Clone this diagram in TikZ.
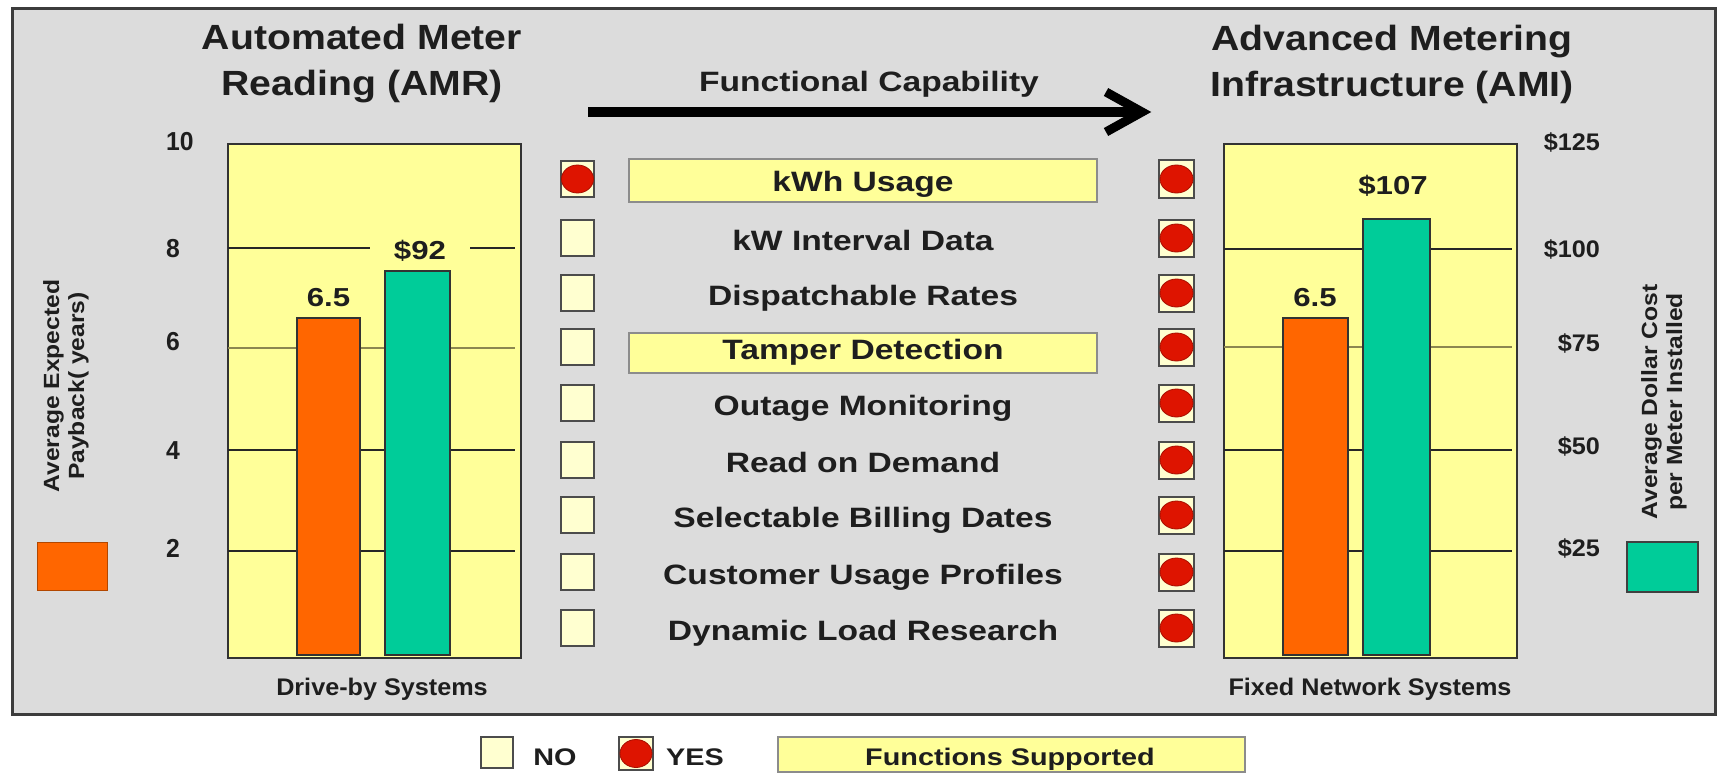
\documentclass[tikz,border=0pt]{standalone}
\usepackage{fontspec}
\setmainfont{Liberation Sans}
\newfontfamily\fT[FakeStretch=1.12]{Liberation Sans}
\newfontfamily\fW[FakeStretch=1.2]{Liberation Sans}
\newfontfamily\fS[FakeStretch=1.05]{Liberation Sans}
\newfontfamily\fN[FakeStretch=0.95]{Liberation Sans}
\usetikzlibrary{shapes.geometric}
\definecolor{bggray}{RGB}{220,220,220}
\definecolor{framec}{RGB}{60,60,60}
\definecolor{plotyellow}{RGB}{255,255,153}
\definecolor{chkfill}{RGB}{255,255,208}
\definecolor{barorange}{RGB}{255,102,0}
\definecolor{barteal}{RGB}{0,204,153}
\definecolor{dotred}{RGB}{222,20,0}
\definecolor{txt}{RGB}{30,30,30}
\definecolor{olive}{RGB}{140,135,80}
\begin{document}
\begin{tikzpicture}[x=1pt,y=-1pt,
  title/.style={font=\fT\bfseries\fontsize{35}{46}\selectfont, align=center, text=txt},
  wtext/.style={font=\fW\bfseries\fontsize{28}{34}\selectfont, text=txt},
  item/.style={font=\fW\bfseries\fontsize{28}{34}\selectfont, text=txt, anchor=base, inner sep=0},
  ltick/.style={font=\fN\bfseries\fontsize{26}{30}\selectfont, text=txt, anchor=west, inner sep=0},
  rtick/.style={font=\fS\bfseries\fontsize{24}{28}\selectfont, text=txt, anchor=east, inner sep=0},
  vlab/.style={font=\fW\bfseries\fontsize{26}{30}\selectfont, text=txt, inner ysep=2},
  axlab/.style={font=\fT\bfseries\fontsize{22}{25}\selectfont, text=txt, align=center, rotate=90},
  cat/.style={font=\fS\bfseries\fontsize{24}{28}\selectfont, text=txt, anchor=base, inner sep=0},
  legtext/.style={font=\fW\bfseries\fontsize{24}{28}\selectfont, text=txt, anchor=base, inner sep=0},
  plotbox/.style={draw=black!80, line width=2, fill=plotyellow},
  gridk/.style={draw=black!85, line width=2},
  gridl/.style={draw=olive, line width=2},
  bar/.style={draw=black!80, line width=2},
  chk/.style={draw=black!70, line width=2, fill=chkfill, minimum width=33, minimum height=36, inner sep=0},
  yesdot/.style={ellipse, fill=dotred, draw=dotred!75!black, line width=0.8, minimum width=32, minimum height=28, inner sep=0},
  hl/.style={draw=black!45, line width=1.5, fill=plotyellow, minimum width=468, inner sep=0}
]
\useasboundingbox (0,0) rectangle (1722,773);
\fill[white] (0,0) rectangle (1722,773);
\draw[framec, line width=3, fill=bggray] (12,9) rectangle (1715,714);

% titles
\node[title] (tAMR) at (362,64) {Automated Meter\\Reading (AMR)};
\node[title] (tAMI) at (1392,64) {Advanced Metering\\Infrastructure (AMI)};

% functional capability arrow
\node[wtext, anchor=base] (fc) at (869,92) {Functional Capability};
\coordinate (arrS) at (588,112);
\coordinate (arrE) at (1142,112);
\draw[line width=10] (arrS) -- (arrE);
\draw[line width=9, line join=miter] ([shift={(-36,-20)}]arrE) -- (arrE) -- ([shift={(-36,20)}]arrE);

% ---------- left chart ----------
\draw[plotbox] (228,144) rectangle (521,658);
\draw[gridk] (228,248) -- (515,248);
\draw[gridl] (228,348) -- (515,348);
\draw[gridk] (228,450) -- (515,450);
\draw[gridk] (228,551) -- (515,551);
\draw[bar, fill=barorange] (297,318) rectangle (360,655);
\draw[bar, fill=barteal] (385,271) rectangle (450,655);
\node[vlab] (vL1) at (328.5,298) {6.5};
\node[vlab, fill=plotyellow, inner xsep=24] (vL2) at (420,251) {\$92};
\node[ltick] (t10) at (166,142) {10};
\node[ltick] (t8) at (166,249) {8};
\node[ltick] (t6) at (166,342) {6};
\node[ltick] (t4) at (166,451) {4};
\node[ltick] (t2) at (166,548) {2};
\node[axlab] (ylL) at (66,386) {Average Expected\\Payback( years)};
\draw[draw=barorange!70!black, line width=1, fill=barorange] (37,542) rectangle (107,590);
\node[cat] (cL) at (382,695) {Drive-by Systems};

% ---------- right chart ----------
\draw[plotbox] (1224,144) rectangle (1517,658);
\draw[gridk] (1224,249) -- (1512,249);
\draw[gridl] (1224,347) -- (1512,347);
\draw[gridk] (1224,450) -- (1512,450);
\draw[gridk] (1224,551) -- (1512,551);
\draw[bar, fill=barorange] (1283,318) rectangle (1348,655);
\draw[bar, fill=barteal] (1363,219) rectangle (1430,655);
\node[vlab] (vR1) at (1315,298) {6.5};
\node[vlab] (vR2) at (1393,186) {\$107};
\node[rtick] (r125) at (1600,142) {\$125};
\node[rtick] (r100) at (1600,249) {\$100};
\node[rtick] (r75) at (1600,343) {\$75};
\node[rtick] (r50) at (1600,446) {\$50};
\node[rtick] (r25) at (1600,548) {\$25};
\node[axlab] (ylR) at (1664,402) {Average Dollar Cost\\per Meter Installed};
\draw[draw=black!75, line width=1.5, fill=barteal] (1627,542) rectangle (1698,592);
\node[cat] (cR) at (1370,695) {Fixed Network Systems};

% ---------- middle list ----------
\node[hl, minimum height=43] (hl1) at (863,180.5) {};
\node[hl, minimum height=40] (hl4) at (863,353) {};
\foreach \y/\t [count=\i] in {179/kWh Usage,238/kW Interval Data,293/Dispatchable Rates,347/Tamper Detection,403/Outage Monitoring,460/Read on Demand,515/Selectable Billing Dates,572/Customer Usage Profiles,628/Dynamic Load Research}{
  \node[item] (it\i) at (863,\y+12.5) {\t};
  \node[chk] (L\i) at (577.5,\y) {};
  \node[chk, minimum width=35, minimum height=37] (R\i) at (1176.5,\y) {};
  \node[yesdot, minimum width=33] (RD\i) at (R\i) {};
}
\node[yesdot] (LD1) at (L1) {};

% ---------- bottom legend ----------
\node[chk, minimum width=32, minimum height=31] (noBox) at (497,752.5) {};
\node[legtext] (noT) at (555,765) {NO};
\node[chk, minimum width=34, minimum height=33] (yesBox) at (636,753.5) {};
\node[yesdot] (yesDot) at (yesBox) {};
\node[legtext] (yesT) at (695,765) {YES};
\node[hl, minimum width=467, minimum height=35] (fsBox) at (1011.5,754.5) {};
\node[legtext] (fsT) at (1010,765) {Functions Supported};
\end{tikzpicture}
\end{document}
